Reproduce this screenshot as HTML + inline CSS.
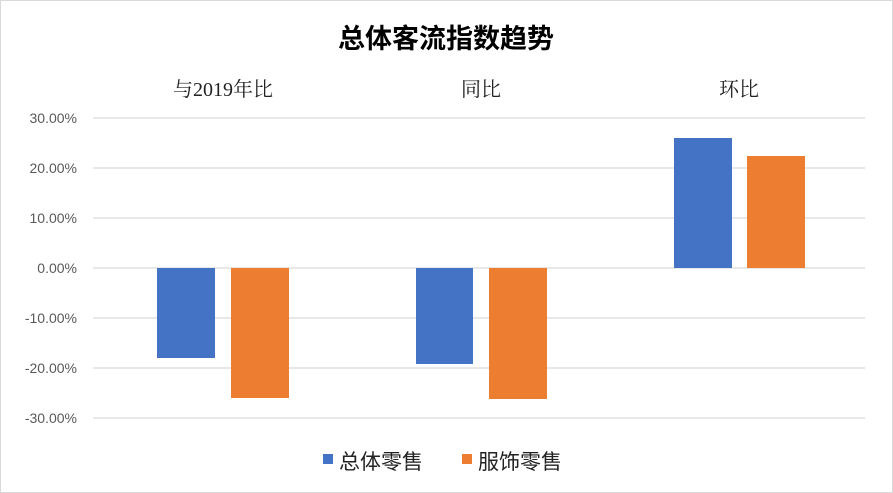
<!DOCTYPE html>
<html><head><meta charset="utf-8"><style>
body{margin:0;background:#fff;}
svg{display:block}
</style></head><body>
<svg width="893" height="493" xmlns="http://www.w3.org/2000/svg" font-family="'Liberation Sans','Noto Sans CJK SC',sans-serif">
<rect x="0.5" y="0.5" width="892" height="492" fill="#fff" stroke="#d9d9d9"/>
<text x="446" y="48" text-anchor="middle" font-size="27" font-weight="bold" fill="#000">总体客流指数趋势</text>
<g font-size="20" fill="#222" text-anchor="middle" font-family="'Liberation Serif','Noto Serif CJK SC',serif">
<text x="223" y="96">与2019年比</text>
<text x="481" y="96">同比</text>
<text x="739" y="96">环比</text>
</g>
<g stroke="#d9d9d9" stroke-width="1.3">
<line x1="93" x2="865" y1="118" y2="118"/>
<line x1="93" x2="865" y1="168" y2="168"/>
<line x1="93" x2="865" y1="218" y2="218"/>
<line x1="93" x2="865" y1="268" y2="268"/>
<line x1="93" x2="865" y1="318" y2="318"/>
<line x1="93" x2="865" y1="368" y2="368"/>
<line x1="93" x2="865" y1="418" y2="418"/>
</g>
<g font-size="14" fill="#595959" text-anchor="end">
<text x="77" y="123">30.00%</text>
<text x="77" y="173">20.00%</text>
<text x="77" y="223">10.00%</text>
<text x="77" y="273">0.00%</text>
<text x="77" y="323">-10.00%</text>
<text x="77" y="373">-20.00%</text>
<text x="77" y="423">-30.00%</text>
</g>
<g fill="#4472c4">
<rect x="157" y="268" width="58" height="90"/>
<rect x="416" y="268" width="57" height="96"/>
<rect x="674" y="138" width="58" height="130"/>
</g>
<g fill="#ed7d31">
<rect x="231" y="268" width="58" height="130"/>
<rect x="489" y="268" width="58" height="131"/>
<rect x="747" y="156" width="58" height="112"/>
</g>
<rect x="323" y="454" width="10" height="10" fill="#4472c4"/>
<text x="339" y="469" font-size="21" fill="#222">总体零售</text>
<rect x="462" y="454" width="10" height="10" fill="#ed7d31"/>
<text x="478" y="469" font-size="21" fill="#222">服饰零售</text>
</svg>
</body></html>
